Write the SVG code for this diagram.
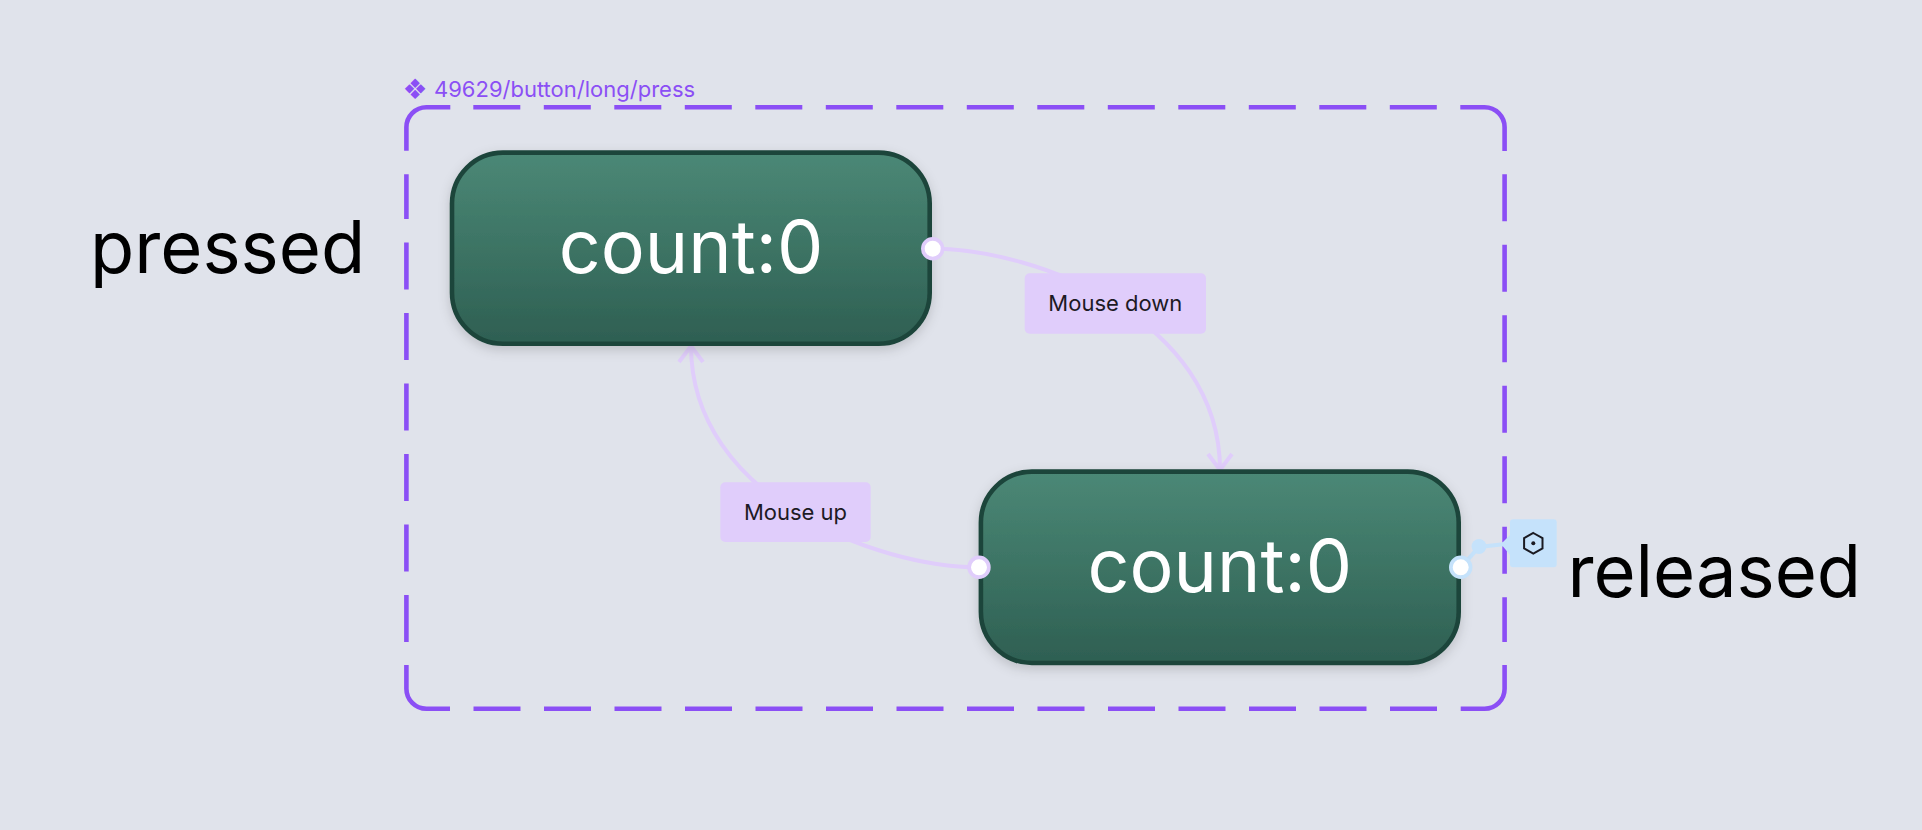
<svg xmlns="http://www.w3.org/2000/svg" width="1922" height="830" viewBox="0 0 1922 830">
<defs>
<linearGradient id="g" x1="0" y1="0" x2="0" y2="1"><stop offset="0" stop-color="#4b8876"/><stop offset="1" stop-color="#2e5f52"/></linearGradient>
<filter id="s" x="-10%" y="-15%" width="120%" height="135%"><feDropShadow dx="0" dy="4" stdDeviation="6" flood-color="#000" flood-opacity="0.16"/></filter>
</defs>
<style>
text{font-family:Inter,"Liberation Sans",sans-serif}
.f{fill:none;stroke:#8b4ff5;stroke-width:4.6}
.fd{stroke-dasharray:47 23.5}
.n{fill:url(#g);stroke:#1e453b;stroke-width:4.6;filter:url(#s)}
.c{font-size:73.5px;font-weight:400;fill:#fff;text-anchor:middle}
.e{fill:none;stroke:#e0cdfb;stroke-width:4}
.l{fill:#e0cdfb}
.lt{font-size:22px;fill:#1d1a24;text-anchor:middle}
.p{fill:#fff;stroke-width:3.7}
.big{font-size:72.3px;font-weight:400;fill:#000}
</style>
<rect width="1922" height="830" fill="#e0e3eb"/>
<g id="frame">
<path class="f" d="M406.4 150.7V127.3A20 20 0 0 1 426.4 107.3H450.3"/>
<path class="f" d="M1460.3 107.3H1484.6A20 20 0 0 1 1504.6 127.3V151"/>
<path class="f" d="M1504.6 665V688.7A20 20 0 0 1 1484.6 708.7H1460.7"/>
<path class="f" d="M450 708.7H426.4A20 20 0 0 1 406.4 688.7V665"/>
<path class="f fd" d="M473.3 107.3H1438"/>
<path class="f fd" d="M1504.6 174.3V642"/>
<path class="f fd" d="M1437 708.7H473"/>
<path class="f fd" d="M406.4 642V174.3"/>
<text x="402.6" y="96.7" font-size="22" fill="#8b4ff5"><tspan font-family="DejaVu Sans" font-size="28" dy="1.8">❖</tspan><tspan x="434" dy="-1.8">49629/button/long/press</tspan></text>
</g>
<g id="connectors">
<path class="e" d="M932.7 248.7C1035 248.7 1220 319 1220 470"/>
<path class="e" d="M1208 454L1220 470L1232 454"/>
<path class="e" d="M979 567.3C877 567.3 691 497 691 346"/>
<path class="e" d="M679 362L691 346L703 362"/>
<path d="M1461 567.3L1479 547L1510 543.5" fill="none" stroke="#c5e2fb" stroke-width="4"/>
</g>
<g id="node-pressed">
<rect class="n" x="452" y="152.6" width="477.7" height="191.1" rx="51"/>
<text class="c" x="691" y="273.3">count:0</text>
<circle class="p" cx="932.7" cy="248.7" r="9.85" stroke="#e0cdfb"/>
</g>
<g id="node-released">
<rect class="n" x="980.9" y="471.6" width="477.8" height="191.4" rx="51"/>
<text class="c" x="1219.8" y="592.3">count:0</text>
<circle class="p" cx="979" cy="567.3" r="9.85" stroke="#e0cdfb"/>
<circle class="p" cx="1460.7" cy="567.3" r="9.85" stroke="#c5e2fb"/>
</g>
<g id="label-mouse-down">
<rect class="l" x="1024.7" y="273.3" width="181.3" height="60.4" rx="5"/>
<text class="lt" x="1115.3" y="310.7">Mouse down</text>
</g>
<g id="label-mouse-up">
<rect class="l" x="720.3" y="482.3" width="150.4" height="59.7" rx="5"/>
<text class="lt" x="795.5" y="519.7">Mouse up</text>
</g>
<g id="action">
<circle cx="1479" cy="546.5" r="7.5" fill="#c5e2fb"/>
<path d="M1501 544L1510 535V555Z" fill="#c5e2fb"/>
<rect x="1510" y="519.3" width="46.7" height="48" rx="3" fill="#c5e2fb"/>
<path d="M1533.3 533L1542.5 538.2V548.4L1533.3 553.6L1524.1 548.4V538.2Z" fill="none" stroke="#1a1a22" stroke-width="2"/>
<circle cx="1533.3" cy="543.3" r="2" fill="#1a1a22"/>
</g>
<text class="big" id="label-pressed" x="90" y="273.3">pressed</text>
<text class="big" id="label-released" x="1567.4" y="596.7">released</text>
</svg>
